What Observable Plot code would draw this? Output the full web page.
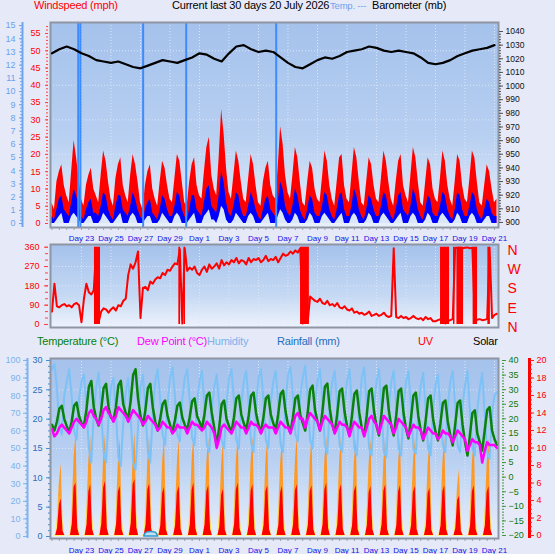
<!DOCTYPE html>
<html>
<head>
<meta charset="utf-8">
<script src="https://cdn.jsdelivr.net/npm/d3@7"></script>
<script src="https://cdn.jsdelivr.net/npm/@observablehq/plot@0.6"></script>
<style>
  html, body { margin: 0; padding: 0; background: #e6e9f7; }
  #chart { position: relative; width: 555px; height: 554px; overflow: hidden; font-family: "Liberation Sans", Arial, sans-serif; }
  #chart svg { position: absolute; left: 0; top: 0; }
  .t { position: absolute; white-space: nowrap; font-size: 11px; line-height: 1; letter-spacing: -0.2px; }
</style>
</head>
<body>
<div id="chart"></div>
<script>
// ---- Time axis: day offset since 21 June 2026 00:00 ----
const dayTicks = [2, 4, 6, 8, 10, 12, 14, 16, 18, 20, 22, 24, 26, 28, 30];
const dayLabels = ["Day 23", "Day 25", "Day 27", "Day 29", "Day 1", "Day 3", "Day 5", "Day 7",
                   "Day 9", "Day 11", "Day 13", "Day 15", "Day 17", "Day 19", "Day 21"];

// ---- Wind, sampled every 4 h (00,04,08,12,16,20) ----
const gust = [
   6, 4,12,15,17,11,
   8, 6,15,24,19,13,
   7, 5,11,14,16,10,
   8, 6,14,21,18,12,
   7, 5,13,17,19,11,
   8, 6,14,20,17,12,
   6, 4,11,15,17,10,
   7, 5,12,18,16,11,
   7, 6,13,20,18,12,
   6, 5,12,17,19,11,
   8, 7,15,22,25,14,
  10, 8,19,33,26,16,
   9, 7,14,21,18,12,
   7, 6,13,20,17,11,
   6, 5,12,16,18,11,
   8, 7,16,28,23,14,
   9, 7,14,22,19,12,
   6, 5,12,18,16,10,
   7, 6,13,21,18,11,
   7, 5,12,19,20,11,
   7, 6,14,22,19,12,
   6, 5,12,19,17,11,
   7, 6,13,21,18,12,
   7, 5,12,18,20,11,
   8, 6,14,22,19,12,
   6, 5,12,19,17,10,
   7, 6,13,21,18,11,
   7, 5,12,20,18,11,
   7, 6,13,21,19,12,
   6, 5,11,17,15,10,
   6, 7
];
const windAvg = [
  2, 1, 4, 7, 8, 4,
  3, 2, 6,10, 8, 5,
  2, 1, 4, 6, 7, 3,
  3, 2, 5, 9, 8, 4,
  2, 1, 5, 8, 8, 4,
  3, 2, 5, 9, 7, 4,
  2, 1, 4, 6, 7, 3,
  2, 1, 4, 8, 7, 4,
  2, 2, 5, 9, 8, 4,
  2, 1, 4, 8, 8, 4,
  3, 2, 6,10,11, 5,
  4, 3, 8,15,12, 6,
  3, 2, 5, 9, 8, 4,
  2, 2, 5, 9, 7, 4,
  2, 1, 4, 7, 8, 4,
  3, 2, 6,12,10, 5,
  3, 2, 5,10, 8, 4,
  2, 1, 4, 8, 7, 3,
  2, 2, 5, 9, 8, 4,
  2, 1, 4, 8, 9, 4,
  2, 2, 5,10, 8, 4,
  2, 1, 4, 8, 7, 4,
  2, 2, 5, 9, 8, 4,
  2, 1, 4, 8, 9, 4,
  3, 2, 5,10, 8, 4,
  2, 1, 4, 8, 7, 3,
  2, 2, 5, 9, 8, 4,
  2, 1, 4, 9, 8, 4,
  2, 2, 5, 9, 8, 4,
  2, 1, 4, 7, 6, 3,
  2, 2
];
// lowest speed in each interval (the lull under the average)
const windLow = [
  0, 0, 1, 2, 3, 0,
  0, 0, 2, 3, 2, 1,
  0, 0, 1, 2, 2, 0,
  0, 0, 1, 3, 2, 1,
  0, 0, 1, 2, 3, 0,
  0, 0, 2, 3, 2, 0,
  0, 0, 1, 2, 2, 0,
  0, 0, 1, 3, 2, 1,
  0, 0, 2, 3, 2, 0,
  0, 0, 1, 2, 3, 0,
  0, 0, 2, 3, 4, 1,
  1, 0, 2, 5, 4, 1,
  0, 0, 1, 3, 2, 1,
  0, 0, 2, 3, 2, 0,
  0, 0, 1, 2, 3, 0,
  0, 0, 2, 4, 3, 1,
  0, 0, 1, 3, 2, 0,
  0, 0, 1, 3, 2, 0,
  0, 0, 2, 3, 2, 1,
  0, 0, 1, 2, 3, 0,
  0, 0, 2, 3, 2, 0,
  0, 0, 1, 3, 2, 0,
  0, 0, 2, 3, 2, 1,
  0, 0, 1, 2, 3, 0,
  0, 0, 2, 3, 2, 0,
  0, 0, 1, 3, 2, 0,
  0, 0, 2, 3, 2, 1,
  0, 0, 1, 3, 2, 0,
  0, 0, 2, 3, 2, 0,
  0, 0, 1, 2, 2, 0,
  0, 0
];
const windDir = [
   60,190, 85, 80, 90, 95,
   85, 90, 80, 95,100, 90,
   10,120,190,150,140,160,
  350, 10, 60, 75, 70, 55,
   70, 80, 65, 90, 85,110,
  120,230,280,260,290,340,
   30,170,175,160,200,190,
  210,220,215,240,230,255,
  250,270,285,280,350,  5,
  355,250,265,255,270,240,
  230,255,270,245,280,260,
  270,285,260,300,275,290,
  280,300,290,310,285,300,
  295,280,310,290,305,300,
  310,290,300,320,295,305,
  300,315,290,310,330,320,
  325,340,330,345,335,355,
    5,350, 10,130,120,110,
  105,120,100, 95,110, 90,
   95, 85,100, 80, 75, 85,
   70, 65, 75, 55, 60, 50,
   55, 45, 50, 60, 40, 45,
   50, 40, 45, 55, 40, 35,
   40,355, 35, 30, 40, 30,
   35, 25, 30, 40, 30, 25,
   30, 20, 35, 25, 30, 15,
   15, 20, 25, 10,  5, 15,
   20, 25,358,356,358,355,
  357,359,355,357, 20, 22,
   25, 20, 22, 25,358, 30,
   45, 50
];
// periods (day offsets) when the vane kept swinging across north
const northSwings = [[2.88, 3.29], [8.6, 8.72], [8.95, 9.05], [16.85, 17.45], [26.34, 26.95],
                     [27.22, 27.32], [27.45, 27.9], [28.55, 28.85], [29.55, 29.72]];
// days with rain logged
const rainMarks = [1.78, 1.93, 6.18, 9.1, 15.2];

// ---- Barometer (mb), every 12 h ----
const barometer = [
  1024,1027,1029,1027,1024,1022,1019,1018,1017,1018,
  1016,1014,1013,1015,1017,1019,1018,1017,1019,1021,
  1024,1023,1020,1018,1024,1029,1030,1027,1025,1026,
  1025,1021,1017,1014,1013,1016,1019,1021,1020,1022,
  1025,1026,1027,1029,1028,1026,1025,1026,1025,1024,
  1021,1017,1016,1017,1019,1022,1024,1026,1027,1028,
  1030
];

// ---- Temperature / dew point (°C), humidity (%), every 4 h ----
const temperature = [
  18,  16,  19,  23.5,24.5,20,
  17.5,15.3,19,  24.5,25.6,21,
  18.5,17.7,23,  31,  33,  24,
  20,  17.7,23,  30.5,32,  24,
  20.5,19.4,24,  31.5,33,  25,
  22,  20,  26,  35,  37,  27,
  21,  17.7,23,  30.5,32,  24,
  19,  16,  20,  25,  26.3,21,
  18,  15.3,19.5,24.5,25.6,20.5,
  18,  16,  20.5,26,  27,  21,
  19,  16.6,21.5,28,  29,  22,
  17,  10.9,17,  25,  26.3,20,
  17.5,15.3,20.5,27,  28,  21.5,
  18.5,16,  21,  28,  29,  22,
  18,  15.3,20.5,27,  28,  21.5,
  18.5,16,  21.5,28.5,29.7,22.5,
  18,  15.3,20.5,27,  28,  21.5,
  18.5,16,  22,  30,  31.4,23,
  19,  16,  22.5,31,  32.1,23.5,
  18,  15.3,21.5,29.5,30.4,22.5,
  17.5,14.3,21,  28.5,29.7,22,
  17,  14.3,21,  29.5,30.4,22.5,
  17.5,14.3,21.5,30.5,31.4,23,
  17.5,14.3,21,  29.5,30.4,22,
  16.5,13.3,20,  28,  29,  21,
  16,  12.6,19.5,27,  28,  20,
  15.5,12.6,18.5,25.5,26.3,19,
  14.5,10.9,18,  25.5,26.3,18,
  12,  7.4, 14.5,22,  22.9,15,
  12,  9.1, 16,  23,  24,  16,
  13,  11
];
const dewPoint = [
  16.5,14,15,17,18,17,
  16,15,17,19,20,19,
  18,17,19,22,23,21,
  20,18,20,23,24,22,
  21,19,21,24,23,22,
  21,19,21,23,22,21,
  20,18,19,21,20,19,
  18,16,17,19,18,17,
  17,15,16,18,17,17,
  17,15,17,19,18,18,
  17,16,17,19,18,17,
  15,10,13,17,18,17,
  16,15,17,19,18,17,
  17,15,17,19,18,18,
  17,15,17,18,17,17,
  17,15,17,19,18,17,
  17,15,18,21,22,20,
  20,17,20,22,21,20,
  19,16,19,21,20,19,
  18,15,17,19,18,18,
  17,14,17,19,18,17,
  17,14,17,20,21,19,
  18,15,18,21,20,19,
  18,15,17,20,19,18,
  17,14,16,18,17,17,
  16,13,15,17,16,15,
  15,13,14,16,15,15,
  14,12,14,16,15,14,
  13, 9,11,13,12,12,
  11, 5, 9,12,11,11,
  11,10
];
const humidity = [
  95,98,85,62,58,80,
  88,95,80,60,55,78,
  88,92,75,50,42,70,
  85,93,72,48,42,68,
  85,90,70,45,40,65,
  82,90,68,42,38,62,
  85,92,72,48,42,70,
  88,95,78,58,52,75,
  90,96,80,58,54,78,
  90,95,78,56,52,76,
  88,94,75,52,48,72,
  85,92,75,55,50,75,
  90,95,78,55,50,75,
  88,94,76,53,48,74,
  90,95,78,55,50,76,
  88,94,76,52,48,74,
  92,96,80,58,54,80,
  90,97,78,55,50,76,
  88,95,76,52,47,74,
  88,94,75,52,48,74,
  88,95,74,50,46,72,
  90,96,75,50,46,74,
  88,95,74,48,45,72,
  88,94,74,50,46,72,
  88,94,74,50,47,72,
  86,93,72,50,46,72,
  86,92,72,52,48,74,
  88,94,74,52,48,74,
  86,94,72,50,46,72,
  84,93,70,48,44,70,
  80,82
];

// ---- Solar (W/m²) and UV index, every 3 h ----
const solar = [
  0,0,20,190,480,650,140,0,
  0,0,40,280,700,920,200,0,
  0,0,35,270,680,900,190,0,
  0,0,35,270,690,910,200,0,
  0,0,30,260,660,880,190,0,
  0,0,40,280,700,930,210,0,
  0,0,35,270,680,900,190,0,
  0,0,30,260,660,880,180,0,
  0,0,30,260,650,870,180,0,
  0,0,35,270,680,900,190,0,
  0,0,30,260,660,880,190,0,
  0,0,30,250,640,850,180,0,
  0,0,35,270,680,900,190,0,
  0,0,35,270,670,890,190,0,
  0,0,30,260,660,880,180,0,
  0,0,30,260,650,870,180,0,
  0,0,35,270,670,890,190,0,
  0,0,30,260,660,880,180,0,
  0,0,35,270,680,900,190,0,
  0,0,35,270,670,890,190,0,
  0,0,30,260,660,880,180,0,
  0,0,30,260,650,870,180,0,
  0,0,35,270,670,890,190,0,
  0,0,30,260,660,880,180,0,
  0,0,30,260,650,870,180,0,
  0,0,30,250,640,860,180,0,
  0,0,30,260,660,880,180,0,
  0,0,20,180,450,600,130,0,
  0,0,30,260,660,880,180,0,
  0,0,30,260,650,870,180,0,
  0,0
];
const uvIndex = [
  0,0,0,0.8,3.5,4.2,0.5,0,
  0,0,0,1.3,5.5,6.0,0.8,0,
  0,0,0,1.2,5.0,5.8,0.7,0,
  0,0,0,1.3,5.4,6.2,0.8,0,
  0,0,0,1.2,5.0,5.6,0.7,0,
  0,0,0,1.4,5.8,6.4,0.9,0,
  0,0,0,1.2,5.2,5.9,0.8,0,
  0,0,0,1.1,4.8,5.5,0.7,0,
  0,0,0,1.1,4.9,5.6,0.7,0,
  0,0,0,1.2,5.2,6.0,0.8,0,
  0,0,0,1.2,5.0,5.7,0.7,0,
  0,0,0,1.0,4.6,5.3,0.6,0,
  0,0,0,1.2,5.2,6.0,0.8,0,
  0,0,0,1.2,5.1,5.8,0.7,0,
  0,0,0,1.1,5.0,5.7,0.7,0,
  0,0,0,1.1,4.9,5.6,0.7,0,
  0,0,0,1.2,5.1,5.8,0.8,0,
  0,0,0,1.1,5.0,5.7,0.7,0,
  0,0,0,1.2,5.2,6.0,0.8,0,
  0,0,0,1.2,5.1,5.8,0.7,0,
  0,0,0,1.1,5.0,5.7,0.7,0,
  0,0,0,1.1,4.9,5.6,0.7,0,
  0,0,0,1.2,5.1,5.8,0.7,0,
  0,0,0,1.1,5.0,5.7,0.7,0,
  0,0,0,1.1,4.9,5.6,0.7,0,
  0,0,0,1.0,4.8,5.4,0.6,0,
  0,0,0,1.1,5.0,5.7,0.7,0,
  0,0,0,0.8,4.0,4.5,0.5,0,
  0,0,0,1.1,5.0,5.7,0.7,0,
  0,0,0,1.1,4.9,5.6,0.7,0,
  0,0
];

// ---- Rainfall (mm) ----
const rainDay = [6.25, 6.35, 6.5, 6.95, 7.1, 7.2];
const rainMm  = [0, 0.6, 0.75, 0.75, 0.6, 0];

// ---- Tables for the marks ----
const windRows = gust.map((g, i) => ({t: i / 6, gust: g, avg: windAvg[i], low: windLow[i], dir: windDir[i]}));
const pressureRows = barometer.map((v, i) => ({t: i / 2, mb: v}));
const climateRows = temperature.map((v, i) => ({t: i / 6, temp: v, dew: dewPoint[i], hum: humidity[i]}));
const sunRows = solar.map((v, i) => ({t: i / 8, solar: v, uv: uvIndex[i]}));
const rainRows = rainDay.map((t, i) => ({t, mm: rainMm[i]}));

// ---- Layout ----
const W = 555, H = 554;
const xDomain = [-0.1, 30.27];
const panels = {
  wind: {top: 22, bottom: 227},
  dir: {top: 244, bottom: 327},
  climate: {top: 358, bottom: 538}
};
const gridColor = "#dce6f6";
const frameColor = "#8f96a3";
const chart = document.getElementById("chart");

function layer(p, yDomain, marks) {
  const svg = Plot.plot({
    width: W, height: H,
    marginLeft: 50, marginRight: 57, marginTop: p.top, marginBottom: H - p.bottom,
    x: {domain: xDomain, axis: null},
    y: {domain: yDomain, axis: null},
    style: {background: "none", overflow: "visible", fontFamily: "'Liberation Sans', Arial, sans-serif"},
    marks
  });
  chart.appendChild(svg);
  return svg;
}
function addGradient(svg, id, stops) {
  const g = d3.select(svg).insert("defs", ":first-child")
    .append("linearGradient").attr("id", id)
    .attr("x1", 0).attr("y1", 0).attr("x2", 0).attr("y2", 1);
  for (const [o, c] of stops) g.append("stop").attr("offset", o).attr("stop-color", c);
}
const panelStops = [[0, "#a5c2ec"], [0.55, "#b7cff1"], [1, "#e9f0fb"]];
const grid = (ys) => [
  Plot.ruleX(dayTicks, {stroke: gridColor, strokeDasharray: "1,2"}),
  Plot.ruleY(ys, {stroke: gridColor, strokeDasharray: "1,2"})
];
const dayAxis = (pad) => [
  Plot.axisX(d3.range(0, 30.5, 0.5), {anchor: "bottom", tickSize: 3, stroke: "#9aa0ab", fill: "none", label: null}),
  Plot.axisX(dayTicks, {anchor: "bottom", tickSize: 0, tickPadding: pad, fill: "#1414e6", fontSize: 8,
    tickFormat: d => dayLabels[dayTicks.indexOf(d)], label: null})
];

// ===== Panel 1: wind speed, gust, barometer =====
const windDomain = [-1.16, 58.18];
const svgWind = layer(panels.wind, windDomain, [
  Plot.frame({fill: "url(#bgWind)"}),
  ...grid([10, 20, 30, 40, 50]),
  Plot.areaY(windRows, {x: "t", y: "gust", fill: "#ff0000"}),
  Plot.areaY(windRows, {x: "t", y: "avg", fill: "#0000ff"}),
  Plot.areaY(windRows, {x: "t", y: "low", fill: "#dae7f9"}),
  Plot.ruleX(rainMarks, {stroke: "#3d8cff", strokeWidth: 2}),
  Plot.frame({stroke: frameColor, strokeWidth: 2}),
  Plot.axisY(d3.range(0, 58, 1), {anchor: "left", dx: -2, tickSize: 2, stroke: "#ff4040", fill: "none", label: null}),
  Plot.axisY(d3.range(0, 56, 5), {anchor: "left", dx: -2, tickSize: 3, tickPadding: 5, stroke: "#ff4040", fill: "#ff0000", fontSize: 9, label: null}),
  ...dayAxis(8)
]);
addGradient(svgWind, "bgWind", panelStops);

// Beaufort scale on the far left
layer(panels.wind, [-0.30, 15.23], [
  Plot.ruleX([xDomain[0]], {dx: -28, stroke: "#6ea6ee", strokeWidth: 2}),
  Plot.axisY(d3.range(0, 15.01, 0.25), {anchor: "left", dx: -28, tickSize: 2, stroke: "#6ea6ee", fill: "none", label: null}),
  Plot.axisY(d3.range(0, 16, 1), {anchor: "left", dx: -28, tickSize: 3, tickPadding: 4, stroke: "#6ea6ee", fill: "#6aa3ee", fontSize: 9, label: null})
]);

// Barometer
layer(panels.wind, [896.3, 1046.6], [
  Plot.lineY(pressureRows, {x: "t", y: "mb", stroke: "#000", strokeWidth: 2.2}),
  Plot.axisY(d3.range(900, 1041, 2), {anchor: "right", tickSize: 2, stroke: "#555", fill: "none", label: null}),
  Plot.axisY(d3.range(900, 1041, 10), {anchor: "right", tickSize: 4, tickPadding: 3, stroke: "#555", fill: "#111", fontSize: 8.5,
    tickFormat: d => String(d), label: null})
]);

// ===== Panel 2: wind direction =====
const compassTicks = [0, 90, 180, 270, 360];
const compassLabels = ["N", "E", "S", "W", "N"];
const svgDir = layer(panels.dir, [-14, 372.6], [
  Plot.frame({fill: "url(#bgDir)"}),
  ...grid([90, 180, 270]),
  Plot.rect(northSwings, {x1: d => d[0], x2: d => d[1], y1: 0, y2: 360, fill: "#ff0000"}),
  Plot.lineY(windRows, {x: "t", y: "dir", stroke: "#ff0000", strokeWidth: 2}),
  Plot.frame({stroke: frameColor, strokeWidth: 2}),
  Plot.axisY(d3.range(0, 361, 30), {anchor: "left", dx: -2, tickSize: 3, stroke: "#ff4040", fill: "none", label: null}),
  Plot.axisY(compassTicks, {anchor: "left", dx: -2, tickSize: 4, tickPadding: 5, stroke: "#ff4040", fill: "#ff0000", fontSize: 9, label: null}),
  Plot.axisY(compassTicks, {anchor: "right", tickSize: 0, tickPadding: 9, dy: 3, fill: "#ff0000", fontSize: 14,
    tickFormat: d => compassLabels[compassTicks.indexOf(d)], label: null})
]);
addGradient(svgDir, "bgDir", [[0, "#a5c2ec"], [0.6, "#c4d8f3"], [1, "#eef3fc"]]);

// ===== Panel 3: temperature, dew point, humidity, rain, UV, solar =====
const rainDomain = [-0.34, 30.34];
const svgClimate = layer(panels.climate, rainDomain, [
  Plot.frame({fill: "url(#bgClimate)"}),
  ...grid([5, 10, 15, 20, 25]),
  ...dayAxis(9)
]);
addGradient(svgClimate, "bgClimate", panelStops);

// Solar radiation (no axis of its own)
const svgSolar = layer(panels.climate, [-18, 1590], [
  Plot.areaY(sunRows, {x: "t", y: "solar", fill: "url(#solarFill)"})
]);
addGradient(svgSolar, "solarFill", [[0, "#ff8c1a"], [0.6, "#ff9f2a"], [0.8, "#ffd24a"], [1, "#fff27a"]]);

// UV index, red scale on the far right
layer(panels.climate, [-0.34, 20.23], [
  Plot.areaY(sunRows, {x: "t", y: "uv", fill: "#ff0000"}),
  Plot.ruleX([xDomain[1]], {dx: 31, stroke: "#ff0000", strokeWidth: 3}),
  Plot.axisY(d3.range(0, 20.01, 0.5), {anchor: "right", dx: 31, tickSize: 2, stroke: "#ff2020", fill: "none", label: null}),
  Plot.axisY(d3.range(0, 21, 2), {anchor: "right", dx: 31, tickSize: 4, tickPadding: 3, stroke: "#ff2020", fill: "#ff0000", fontSize: 9, label: null})
]);

// Rainfall
layer(panels.climate, rainDomain, [
  Plot.areaY(rainRows, {x: "t", y: "mm", fill: "#bfe0f5", stroke: "#2e9ad0", strokeWidth: 1.5, curve: "basis"}),
  Plot.axisY(d3.range(0, 30.01, 1), {anchor: "left", tickSize: 2, stroke: "#3d8fd8", fill: "none", label: null}),
  Plot.axisY(d3.range(0, 31, 5), {anchor: "left", tickSize: 4, tickPadding: 4, stroke: "#3d8fd8", fill: "#1e6fc0", fontSize: 9, label: null})
]);

// Humidity
layer(panels.climate, [-1.14, 101.1], [
  Plot.lineY(climateRows, {x: "t", y: "hum", stroke: "#7cc2f7", strokeWidth: 2}),
  Plot.ruleX([xDomain[0]], {dx: -23, stroke: "#7ab3ee", strokeWidth: 2}),
  Plot.axisY(d3.range(0, 100.1, 2.5), {anchor: "left", dx: -23, tickSize: 2, stroke: "#7ab3ee", fill: "none", label: null}),
  Plot.axisY(d3.range(0, 101, 10), {anchor: "left", dx: -23, tickSize: 4, tickPadding: 3, stroke: "#7ab3ee", fill: "#7ab3ee", fontSize: 9, label: null})
]);

// Temperature and dew point, green scale on the right
layer(panels.climate, [-21.03, 40.69], [
  Plot.lineY(climateRows, {x: "t", y: "temp", stroke: "#0a820a", strokeWidth: 2.5}),
  Plot.lineY(climateRows, {x: "t", y: "dew", stroke: "#ff00ff", strokeWidth: 2.5}),
  Plot.frame({stroke: frameColor, strokeWidth: 2}),
  Plot.axisY(d3.range(-20, 40.1, 1), {anchor: "right", dx: 3, tickSize: 2, stroke: "#3a9a3a", fill: "none", label: null}),
  Plot.axisY(d3.range(-20, 41, 5), {anchor: "right", dx: 3, tickSize: 4, tickPadding: 3, stroke: "#3a9a3a", fill: "#0a7a0a", fontSize: 9, label: null})
]);

// ---- Titles and legends ----
function label(str, x, y, color, size) {
  const d = document.createElement("div");
  d.className = "t";
  d.textContent = str;
  d.style.left = x + "px";
  d.style.top = y + "px";
  d.style.color = color;
  if (size) d.style.fontSize = size + "px";
  chart.appendChild(d);
}
label("Windspeed (mph)", 34, 0, "#ff0000");
label("Current last 30 days 20 July 2026", 172, 0, "#000");
label("Temp. ---", 330, 1, "#6aa3ee", 9.5);
label("Barometer (mb)", 372, 0, "#000");
label("Temperature (°C)", 37, 336, "#087f08");
label("Dew Point (°C)", 137, 336, "#ff00ff");
label("Humidity", 207, 336, "#7ab3ee");
label("Rainfall (mm)", 277, 336, "#1e6fc0");
label("UV", 418, 336, "#ff0000");
label("Solar", 473, 336, "#000");
</script>
</body>
</html>
